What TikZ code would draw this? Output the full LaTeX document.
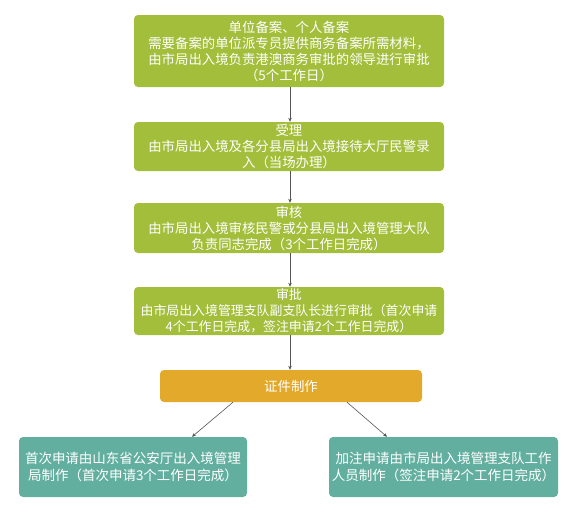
\documentclass[tikz,border=0pt]{standalone}
\usepackage{fontspec}
\setmainfont{Noto Sans CJK SC}
\usetikzlibrary{arrows.meta}
\definecolor{boxgreen}{HTML}{A2BE3A}
\definecolor{boxorange}{HTML}{E3A92A}
\definecolor{boxteal}{HTML}{62AFA0}
\definecolor{arrowgray}{HTML}{555555}
\begin{document}
\begin{tikzpicture}[x=1pt,y=-1pt,
  base/.style={rounded corners=4pt, text=white, align=center, inner sep=0pt,
    font=\fontsize{13.4}{16}\selectfont},
  greenbox/.style={base, fill=boxgreen, minimum width=310pt},
  orangebox/.style={base, fill=boxorange, minimum width=262pt, minimum height=32pt},
  tealbox/.style={base, fill=boxteal, minimum width=228pt, minimum height=60pt,
    font=\fontsize{13.5}{17}\selectfont},
  conn/.style={draw=arrowgray, line width=0.6pt, -{Stealth[length=4pt,width=3.5pt]}}
]
\useasboundingbox (0,0) rectangle (574,512);
\node[greenbox, minimum height=72pt] (b1) at (289,51)
  {单位备案、个人备案\\需要备案的单位派专员提供商务备案所需材料，\\由市局出入境负责港澳商务审批的领导进行审批\\（5个工作日）};
\node[greenbox, minimum height=49pt] (b2) at (289,146.5)
  {受理\\由市局出入境及各分县局出入境接待大厅民警录\\入（当场办理）};
\node[greenbox, minimum height=50pt] (b3) at (289,228)
  {审核\\由市局出入境审核民警或分县局出入境管理大队\\负责同志完成（3个工作日完成）};
\node[greenbox, minimum height=48pt, font=\fontsize{12.9}{16}\selectfont] (b4) at (289,311)
  {审批\\由市局出入境管理支队副支队长进行审批（首次申请\\4个工作日完成，签注申请2个工作日完成）};
\node[orangebox] (b5) at (291,386) {证件制作};
\node[tealbox] (bl) at (133,467)
  {首次申请由山东省公安厅出入境管理\\局制作（首次申请3个工作日完成）};
\node[tealbox, minimum width=229pt] (br) at (443.5,467)
  {加注申请由市局出入境管理支队工作\\人员制作（签注申请2个工作日完成）};
\draw[conn] ([xshift=1pt]b1.south) -- ([xshift=1pt]b2.north);
\draw[conn] ([xshift=1pt]b2.south) -- ([xshift=1pt]b3.north);
\draw[conn] ([xshift=1pt]b3.south) -- ([xshift=1pt]b4.north);
\draw[conn] ([xshift=1pt]b4.south) -- ([xshift=-1pt]b5.north);
\draw[conn] ([xshift=-58pt]b5.south) -- ([xshift=59pt]bl.north);
\draw[conn] ([xshift=56pt]b5.south) -- ([xshift=-56.5pt]br.north);
\end{tikzpicture}
\end{document}
